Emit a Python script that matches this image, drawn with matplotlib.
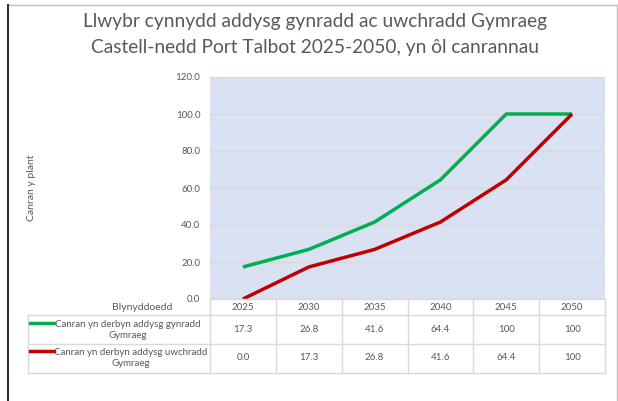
import matplotlib
matplotlib.use("Agg")
from matplotlib import pyplot as plt
from matplotlib.transforms import blended_transform_factory
from matplotlib.lines import Line2D

years = ["2025", "2030", "2035", "2040", "2045", "2050"]
cynradd = [17.3, 26.8, 41.6, 64.4, 100, 100]
uwchradd = [0.0, 17.3, 26.8, 41.6, 64.4, 100]
cynradd_txt = ["17.3", "26.8", "41.6", "64.4", "100", "100"]
uwchradd_txt = ["0.0", "17.3", "26.8", "41.6", "64.4", "100"]
series_names = ["Canran yn derbyn addysg gynradd\nGymraeg",
                "Canran yn derbyn addysg uwchradd\nGymraeg"]
colors = ["#00B050", "#C00000"]

plt.rcParams['font.family'] = ['Lato', 'DejaVu Sans']
W, H = 618, 401
txt = "#595959"
grid = "#D9D9D9"

fig = plt.figure(figsize=(W / 100, H / 100), dpi=100)

def fx(x):
    return x / W

def fy(y):
    return 1 - y / H

# outer frame
fig.add_artist(Line2D([fx(8), fx(617)], [fy(5), fy(5)], color="#BFBFBF", lw=1))
fig.add_artist(Line2D([fx(617), fx(617)], [fy(5), fy(401)], color="#BFBFBF", lw=1))
fig.add_artist(Line2D([fx(8), fx(8)], [fy(5), fy(401)], color="#333333", lw=1.5))

ax = fig.add_axes([fx(210), fy(299), fx(605) - fx(210), fy(77) - fy(299)])
ax.set_facecolor("#D9E1F2")
x = list(range(len(years)))
ax.plot(x, cynradd, color=colors[0], lw=2.5, solid_capstyle="butt")
ax.plot(x, uwchradd, color=colors[1], lw=2.5, solid_capstyle="butt")
ax.set_xlim(-0.5, len(years) - 0.5)
ax.set_ylim(0, 120)
ax.set_yticks(range(0, 121, 20))
ax.set_yticklabels([f"{v:.1f}" for v in range(0, 121, 20)])
ax.set_xticks([])
ax.grid(axis="y", color=grid, lw=1)
ax.set_axisbelow(True)
for s in ax.spines.values():
    s.set_visible(False)
ax.tick_params(axis="y", length=0, pad=7, labelsize=7, labelcolor=txt)

fig.text(fx(31), fy(188), "Canran y plant", rotation=90, ha="center", va="center",
         fontsize=7.5, color=txt)

fig.text(fx(315), fy(22), "Llwybr cynnydd addysg gynradd ac uwchradd Gymraeg",
         ha="center", va="center", fontsize=13.8, color=txt)
fig.text(fx(315), fy(47), "Castell-nedd Port Talbot 2025-2050, yn ôl canrannau",
         ha="center", va="center", fontsize=13.8, color=txt)

# data table under the axis
bt = blended_transform_factory(ax.transData, fig.transFigure)
rows_y = [299, 315, 344, 373]
fig.add_artist(Line2D([fx(210), fx(605)], [fy(299), fy(299)], color=grid, lw=1))
for yy in rows_y[1:]:
    fig.add_artist(Line2D([fx(28), fx(605)], [fy(yy), fy(yy)], color=grid, lw=1))
fig.add_artist(Line2D([fx(28), fx(28)], [fy(315), fy(373)], color=grid, lw=1))
for i in range(len(years) + 1):
    ax.add_line(Line2D([i - 0.5, i - 0.5], [fy(299), fy(373)], transform=bt,
                       color=grid, lw=1, clip_on=False))

fig.text(fx(142), fy(307), "Blynyddoedd", ha="center", va="center", fontsize=7.5, color=txt)
for i, yr in enumerate(years):
    ax.text(i, fy(307), yr, transform=bt, ha="center", va="center", fontsize=7, color=txt)
    ax.text(i, fy(330), cynradd_txt[i], transform=bt, ha="center", va="center",
            fontsize=7, color=txt)
    ax.text(i, fy(358), uwchradd_txt[i], transform=bt, ha="center", va="center",
            fontsize=7, color=txt)

for name, c, yc, xc in zip(series_names, colors, [330, 358], [128, 131]):
    fig.add_artist(Line2D([fx(30), fx(54)], [fy(yc - 7), fy(yc - 7)], color=c, lw=2.5))
    fig.text(fx(xc), fy(yc), name, ha="center", va="center", fontsize=7,
             color=txt, multialignment="center", linespacing=1.2)

plt.savefig("out.png", dpi=100)
